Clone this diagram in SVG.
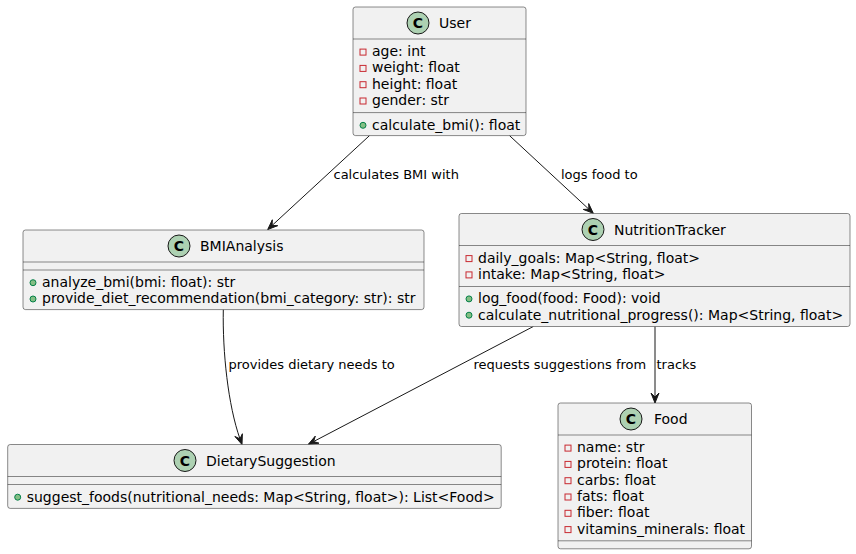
<svg xmlns="http://www.w3.org/2000/svg" width="856" height="554" viewBox="0 0 856 554">
<style>
.box{fill:#F1F1F1;stroke:#181818;stroke-width:0.5}
.sep{stroke:#181818;stroke-width:0.5}
.ci{fill:#ADD1B2;stroke:#181818;stroke-width:1}
.cl{font-family:"DejaVu Sans",sans-serif;font-size:14px;font-weight:bold;fill:#000;text-anchor:middle}
.t{font-family:"DejaVu Sans",sans-serif;font-size:14px;fill:#000}
.lbl{font-family:"DejaVu Sans",sans-serif;font-size:13px;fill:#000}
.pri{fill:none;stroke:#C82930;stroke-width:1}
.pub{fill:#84BE84;stroke:#038048;stroke-width:1}
.edge{fill:none;stroke:#181818;stroke-width:1}
.head{fill:#181818;stroke:#181818;stroke-width:1}
</style>
<g id="connectors">
<path class="edge" d="M369.5,135.6 L272.11,225.43"/>
<polygon class="head" points="272.34,219.78 267.7,229.5 277.76,225.66 272.11,225.43"/>
<text class="lbl" x="333.5" y="179">calculates BMI with</text>
<path class="edge" d="M509.5,135.6 L588.9,209.22"/>
<polygon class="head" points="588.69,203.57 593.3,213.3 583.25,209.43 588.9,209.22"/>
<text class="lbl" x="561" y="179">logs food to</text>
<path class="edge" d="M223.3,309.6 C222.5,352 228,405 239.98,438.85"/>
<polygon class="head" points="242.39,433.74 242,444.5 234.87,436.44 239.98,438.85"/>
<text class="lbl" x="228.5" y="369">provides dietary needs to</text>
<path class="edge" d="M533.3,326.5 L313.62,441.52"/>
<polygon class="head" points="319.02,443.2 308.3,444.3 315.3,436.12 313.62,441.52"/>
<text class="lbl" x="473.5" y="369">requests suggestions from</text>
<path class="edge" d="M655,326.5 L655,397"/>
<polygon class="head" points="651,393 655,403 659,393 655,397"/>
<text class="lbl" x="656.5" y="369">tracks</text>
</g>
<g id="User">
<rect class="box" x="353" y="7" width="173" height="128.6" rx="2.5"/>
<circle class="ci" cx="418" cy="23" r="11"/>
<text class="cl" x="418" y="28">C</text>
<text class="t" x="439" y="28">User</text>
<line class="sep" x1="353" y1="39" x2="526" y2="39"/>
<rect class="pri" x="360" y="49.1" width="6" height="6"/>
<text class="t" x="372" y="56.1">age: int</text>
<rect class="pri" x="360" y="65.4" width="6" height="6"/>
<text class="t" x="372" y="72.4">weight: float</text>
<rect class="pri" x="360" y="81.7" width="6" height="6"/>
<text class="t" x="372" y="88.7">height: float</text>
<rect class="pri" x="360" y="98" width="6" height="6"/>
<text class="t" x="372" y="105">gender: str</text>
<line class="sep" x1="353" y1="112.6" x2="526" y2="112.6"/>
<circle class="pub" cx="363" cy="125.3" r="3"/>
<text class="t" x="372" y="129.6">calculate_bmi(): float</text>
</g>
<g id="BMIAnalysis">
<rect class="box" x="23" y="230" width="401" height="79.6" rx="2.5"/>
<circle class="ci" cx="179" cy="246" r="11"/>
<text class="cl" x="179" y="251">C</text>
<text class="t" x="200" y="251">BMIAnalysis</text>
<line class="sep" x1="23" y1="262" x2="424" y2="262"/>
<line class="sep" x1="23" y1="270" x2="424" y2="270"/>
<circle class="pub" cx="33" cy="282.7" r="3"/>
<text class="t" x="42" y="287">analyze_bmi(bmi: float): str</text>
<circle class="pub" cx="33" cy="299" r="3"/>
<text class="t" x="42" y="303.3">provide_diet_recommendation(bmi_category: str): str</text>
</g>
<g id="NutritionTracker">
<rect class="box" x="459" y="213.5" width="391" height="113" rx="2.5"/>
<circle class="ci" cx="593" cy="229.5" r="11"/>
<text class="cl" x="593" y="234.5">C</text>
<text class="t" x="614" y="234.5">NutritionTracker</text>
<line class="sep" x1="459" y1="245.5" x2="850" y2="245.5"/>
<rect class="pri" x="466" y="255.6" width="6" height="6"/>
<text class="t" x="478" y="262.6">daily_goals: Map&lt;String, float&gt;</text>
<rect class="pri" x="466" y="271.9" width="6" height="6"/>
<text class="t" x="478" y="278.9">intake: Map&lt;String, float&gt;</text>
<line class="sep" x1="459" y1="286.5" x2="850" y2="286.5"/>
<circle class="pub" cx="469" cy="298.9" r="3"/>
<text class="t" x="478" y="303.2">log_food(food: Food): void</text>
<circle class="pub" cx="469" cy="315.2" r="3"/>
<text class="t" x="478" y="319.5">calculate_nutritional_progress(): Map&lt;String, float&gt;</text>
</g>
<g id="DietarySuggestion">
<rect class="box" x="7.7" y="444.5" width="493.5" height="63.9" rx="2.5"/>
<circle class="ci" cx="185" cy="460.5" r="11"/>
<text class="cl" x="185" y="465.5">C</text>
<text class="t" x="206" y="465.5">DietarySuggestion</text>
<line class="sep" x1="7.7" y1="476.5" x2="501.2" y2="476.5"/>
<line class="sep" x1="7.7" y1="484.5" x2="501.2" y2="484.5"/>
<circle class="pub" cx="17.7" cy="497.2" r="3"/>
<text class="t" x="26.7" y="501.5">suggest_foods(nutritional_needs: Map&lt;String, float&gt;): List&lt;Food&gt;</text>
</g>
<g id="Food">
<rect class="box" x="558" y="403" width="193.5" height="145.8" rx="2.5"/>
<circle class="ci" cx="631" cy="419" r="11"/>
<text class="cl" x="631" y="424">C</text>
<text class="t" x="654" y="424">Food</text>
<line class="sep" x1="558" y1="435" x2="751.5" y2="435"/>
<rect class="pri" x="565" y="445.1" width="6" height="6"/>
<text class="t" x="577" y="452.1">name: str</text>
<rect class="pri" x="565" y="461.4" width="6" height="6"/>
<text class="t" x="577" y="468.4">protein: float</text>
<rect class="pri" x="565" y="477.7" width="6" height="6"/>
<text class="t" x="577" y="484.7">carbs: float</text>
<rect class="pri" x="565" y="494" width="6" height="6"/>
<text class="t" x="577" y="501">fats: float</text>
<rect class="pri" x="565" y="510.3" width="6" height="6"/>
<text class="t" x="577" y="517.3">fiber: float</text>
<rect class="pri" x="565" y="526.6" width="6" height="6"/>
<text class="t" x="577" y="533.6">vitamins_minerals: float</text>
<line class="sep" x1="558" y1="540.8" x2="751.5" y2="540.8"/>
</g>
</svg>
